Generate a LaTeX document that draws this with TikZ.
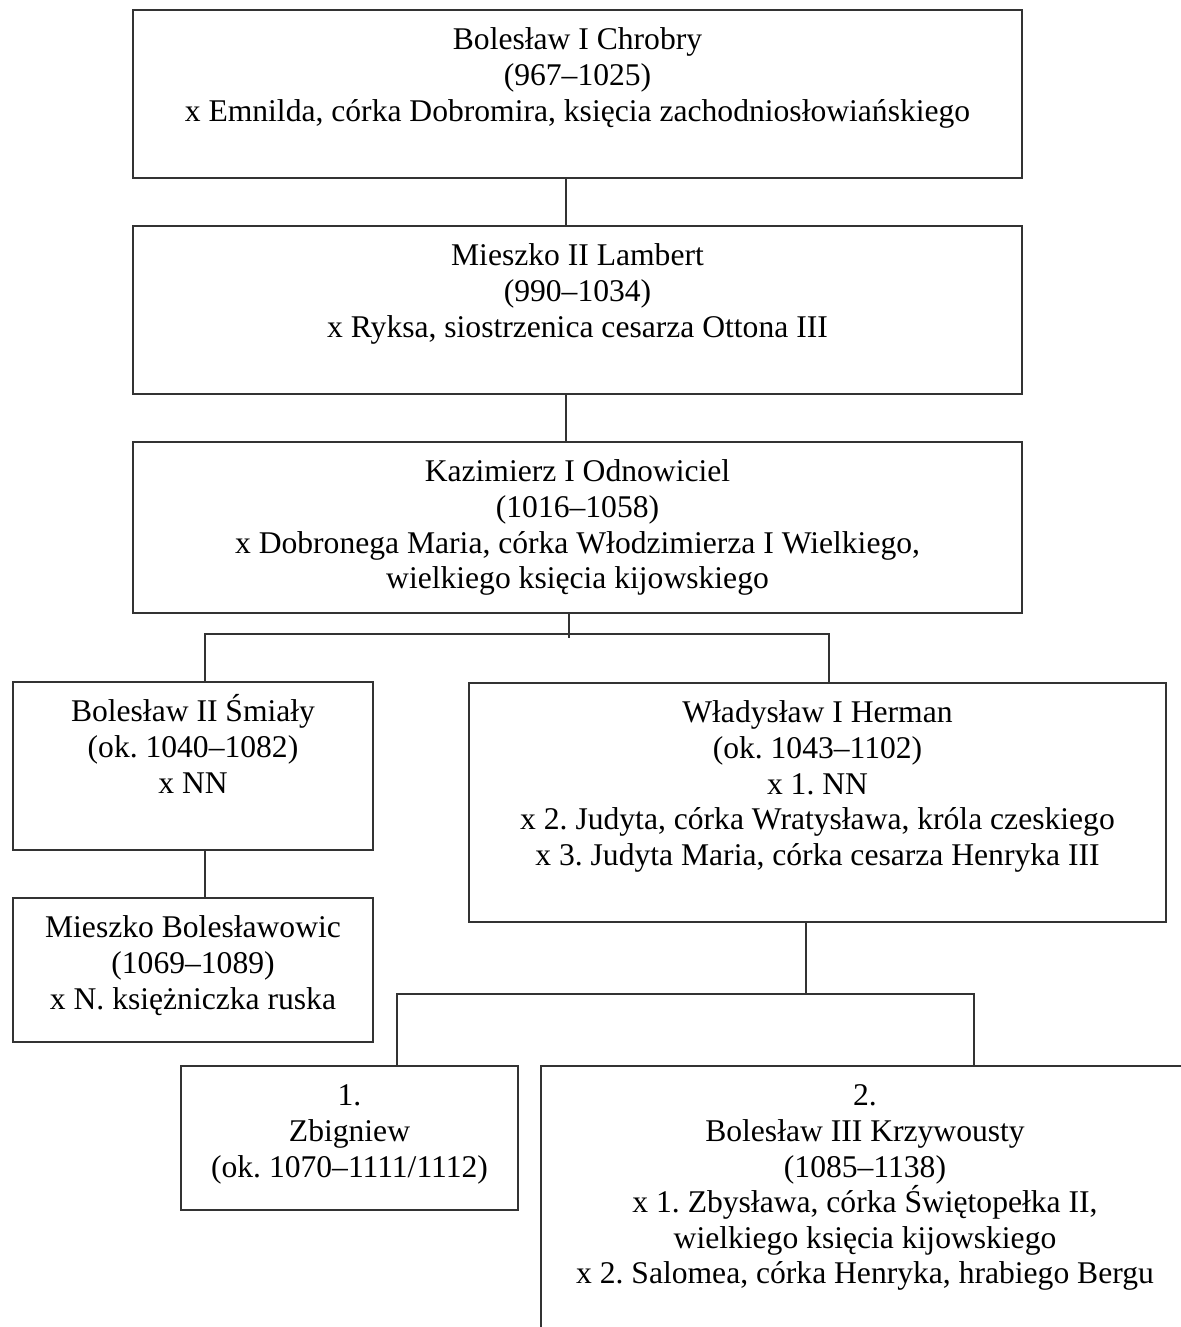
\documentclass[tikz,border=0pt]{standalone}
\usepackage{fontspec}
\setmainfont{Liberation Serif}
\usetikzlibrary{positioning}
\frenchspacing

\newcommand{\pion}{\rule{0pt}{15pt}}

\tikzset{
  ramka/.style={draw=black!80, line width=0.6pt, inner sep=0pt},
  opis/.style={align=center, inner sep=0pt, font=\fontsize{15.8}{17.8}\selectfont},
  linia/.style={draw=black!80, line width=0.6pt}
}

\begin{document}
\begin{tikzpicture}[x=0.5pt,y=-0.5pt]
\useasboundingbox (0,0) rectangle (1181,1327);
\clip (0,0) rectangle (1181,1327);
\node[ramka, minimum width=444.5pt, minimum height=84pt] (boleslawI) at (577.5,94) {};
\node[opis, below=5pt of boleslawI.north] (boleslawIt) {\pion Bolesław I Chrobry\\(967–1025)\\x Emnilda, córka Dobromira, księcia zachodniosłowiańskiego};
\node[ramka, minimum width=444.5pt, minimum height=84pt] (mieszkoII) at (577.5,310) {};
\node[opis, below=5pt of mieszkoII.north] (mieszkoIIt) {\pion Mieszko II Lambert\\(990–1034)\\x Ryksa, siostrzenica cesarza Ottona III};
\node[ramka, minimum width=444.5pt, minimum height=85.5pt] (kazimierz) at (577.5,527.5) {};
\node[opis, below=5pt of kazimierz.north] (kazimierzt) {\pion Kazimierz I Odnowiciel\\(1016–1058)\\x Dobronega Maria, córka Włodzimierza I Wielkiego,\\wielkiego księcia kijowskiego};
\node[ramka, minimum width=180pt, minimum height=84pt] (boleslawII) at (193,766) {};
\node[opis, below=5pt of boleslawII.north] (boleslawIIt) {\pion Bolesław II Śmiały\\(ok. 1040–1082)\\x NN};
\node[ramka, minimum width=180pt, minimum height=72pt] (mieszkoB) at (193,970) {};
\node[opis, below=5pt of mieszkoB.north] (mieszkoBt) {\pion Mieszko Bolesławowic\\(1069–1089)\\x N. księżniczka ruska};
\node[ramka, minimum width=348.5pt, minimum height=119.5pt] (wladyslaw) at (817.5,802.5) {};
\node[opis, below=5pt of wladyslaw.north] (wladyslawt) {\pion Władysław I Herman\\(ok. 1043–1102)\\x 1. NN\\x 2. Judyta, córka Wratysława, króla czeskiego\\x 3. Judyta Maria, córka cesarza Henryka III};
\node[ramka, minimum width=168.5pt, minimum height=72pt] (zbigniew) at (349.5,1138) {};
\node[opis, below=5pt of zbigniew.north] (zbigniewt) {\pion 1.\\Zbigniew\\(ok. 1070–1111/1112)};
% wychodzi poza kadr
\node[ramka, minimum width=324pt, minimum height=140pt] (boleslawIII) at (865,1206) {};
\node[opis, below=5pt of boleslawIII.north] (boleslawIIIt) {\pion 2.\\Bolesław III Krzywousty\\(1085–1138)\\x 1. Zbysława, córka Świętopełka II,\\wielkiego księcia kijowskiego\\x 2. Salomea, córka Henryka, hrabiego Bergu};

\coordinate (szyna1) at (0,634);
\coordinate (szyna2) at (0,994);
\draw[linia] ([xshift=-5.75pt]boleslawI.south) -- ([xshift=-5.75pt]mieszkoII.north);
\draw[linia] ([xshift=-5.75pt]mieszkoII.south) -- ([xshift=-5.75pt]kazimierz.north);
\draw[linia] ([xshift=-4.25pt]kazimierz.south) -- ++(0,24);
\draw[linia] ([xshift=6pt]boleslawII.north) -- ([xshift=6pt]boleslawII.north |- szyna1) -| ([xshift=5.75pt]wladyslaw.north);
\draw[linia] ([xshift=6pt]boleslawII.south) -- ([xshift=6pt]mieszkoB.north);
\draw[linia] ([xshift=-5.75pt]wladyslaw.south) -- ([xshift=-5.75pt]wladyslaw.south |- szyna2);
\draw[linia] ([xshift=23.75pt]zbigniew.north) -- ([xshift=23.75pt]zbigniew.north |- szyna2) -| ([xshift=54.5pt]boleslawIII.north);
\end{tikzpicture}
\end{document}
